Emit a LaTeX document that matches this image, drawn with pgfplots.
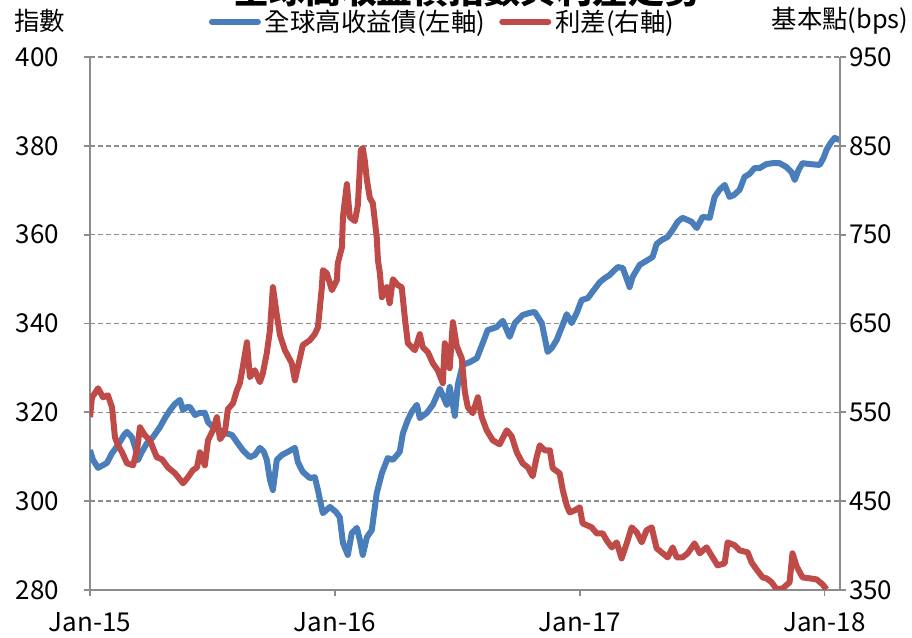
\documentclass[border=0pt]{standalone}
\usepackage{fontspec}
\setmainfont{Noto Sans CJK TC}
\usepackage{pgfplots}
\pgfplotsset{compat=1.18}
\definecolor{hyblue}{HTML}{4A7EBB}
\definecolor{spred}{HTML}{BE4B48}
\definecolor{axgray}{HTML}{8C8C8C}
\pgfplotsset{
  common/.style={
    at={(0,0)}, anchor=south west,
    scale only axis, width=375pt, height=266.5pt,
    xmin=0, xmax=3.063,
    axis line style={-, color=axgray, line width=0.9pt},
    tick style={color=axgray, line width=0.9pt},
    tick align=outside, major tick length=3pt,
    /pgf/number format/assume math mode=true,
    ticklabel style={font=\fontsize{13}{15}\selectfont},
    clip=true,
  }
}
\begin{document}
\begin{tikzpicture}[font=\fontsize{12.7}{14}\selectfont]
\useasboundingbox (-45pt,-24pt) rectangle (411pt,295pt);
\node[anchor=south, inner sep=0pt, font=\fontsize{18}{20}\selectfont\bfseries] at (188.5pt,291pt) {全球高收益債指數與利差走勢};
\begin{axis}[common,
  ymin=280, ymax=400,
  axis x line*=bottom, axis y line*=left,
  xtick={0,1,2,3}, xticklabels={Jan-15,Jan-16,Jan-17,Jan-18},
  xticklabel style={yshift=-4.5pt},
  ytick={280,300,...,400},
  yticklabel style={xshift=-9pt},
  ymajorgrids,
  grid style={color=axgray, line width=0.75pt, dash pattern=on 2.5pt off 1.5pt},
  ylabel={指數},
  ylabel style={rotate=-90, at={(rel axis cs:0,1)}, anchor=center, xshift=-25pt, yshift=18pt, font=\fontsize{12.7}{14}\selectfont},
  legend columns=2,
  legend style={at={(rel axis cs:0.158,1.066)}, anchor=west, draw=none, fill=none, inner sep=0pt,
    font=\fontsize{12.7}{14}\selectfont,
    /tikz/every even column/.append style={column sep=5pt}},
  legend image code/.code={\draw[#1, line width=3pt, line cap=round] (0pt,0pt) -- (23pt,0pt);},
]
\addplot[hyblue, line width=3pt, line join=round] coordinates {
(0.000,311.5) (0.012,309.3) (0.033,307.5) (0.053,308.1) (0.069,308.6) (0.090,310.8)
(0.114,312.6) (0.139,314.9) (0.151,315.6) (0.171,314.4) (0.184,312.2) (0.196,309.3)
(0.212,311.1) (0.233,313.1) (0.257,314.4) (0.286,316.7) (0.306,318.7) (0.327,320.5)
(0.347,321.9) (0.367,322.8) (0.380,320.5) (0.396,321.2) (0.408,321.2) (0.429,319.4)
(0.449,319.9) (0.469,319.9) (0.482,317.8) (0.502,316.7) (0.531,316.0) (0.555,315.3)
(0.580,314.9) (0.600,313.3) (0.624,311.5) (0.653,309.9) (0.673,310.4) (0.694,312.0)
(0.710,311.1) (0.722,309.3) (0.735,304.8) (0.747,302.5) (0.763,309.3) (0.784,310.4)
(0.808,311.1) (0.837,312.0) (0.849,308.8) (0.869,306.6) (0.898,305.2) (0.918,305.4)
(0.931,302.5) (0.939,300.3) (0.951,297.3) (0.980,298.7) (1.004,297.6) (1.020,296.4)
(1.033,290.6) (1.053,287.9) (1.069,292.8) (1.090,294.0) (1.102,291.3) (1.114,287.9)
(1.131,291.9) (1.151,293.5) (1.171,301.8) (1.192,306.3) (1.216,309.7) (1.237,309.3)
(1.265,311.1) (1.278,315.3) (1.298,318.3) (1.314,320.1) (1.335,321.7) (1.347,318.7)
(1.376,319.9) (1.400,321.7) (1.429,325.3) (1.457,321.7) (1.469,325.7) (1.490,319.2)
(1.502,326.2) (1.522,330.7) (1.551,331.3) (1.580,332.2) (1.604,335.6) (1.624,338.5)
(1.661,339.2) (1.686,340.6) (1.714,337.0) (1.735,340.1) (1.767,341.9) (1.796,342.4)
(1.816,342.6) (1.845,340.1) (1.869,333.6) (1.886,334.5) (1.906,336.3) (1.927,339.2)
(1.947,342.1) (1.967,340.1) (1.988,342.4) (2.008,345.3) (2.033,345.7) (2.049,346.9)
(2.082,349.3) (2.102,350.2) (2.122,350.9) (2.155,352.7) (2.176,352.5) (2.204,348.2)
(2.216,350.5) (2.245,353.2) (2.278,354.3) (2.298,355.0) (2.314,357.9) (2.335,358.8)
(2.359,359.5) (2.380,361.1) (2.400,362.9) (2.420,363.8) (2.441,363.3) (2.457,362.9)
(2.478,361.5) (2.502,364.0) (2.531,363.8) (2.551,368.5) (2.571,370.1) (2.592,371.2)
(2.612,368.5) (2.629,368.9) (2.653,370.1) (2.673,373.0) (2.694,373.7) (2.714,375.0)
(2.735,375.0) (2.763,375.9) (2.788,376.1) (2.816,376.1) (2.845,375.2) (2.865,374.1)
(2.878,372.3) (2.894,374.6) (2.910,376.1) (2.939,375.9) (2.980,375.7) (2.996,377.3)
(3.008,379.1) (3.024,380.6) (3.041,381.8) (3.061,381.3)
};
\addlegendentry{全球高收益債(左軸)}
\addlegendimage{spred}
\addlegendentry{利差(右軸)}
\end{axis}
\begin{axis}[common,
  ymin=350, ymax=950,
  axis y line*=right, axis x line=none,
  ytick={350,450,...,950},
  yticklabel style={xshift=-2pt},
  ylabel={基本點(bps)},
  ylabel style={rotate=-90, at={(rel axis cs:1,1)}, anchor=center, xshift=0pt, yshift=18pt, font=\fontsize{12.7}{14}\selectfont},
]
\addplot[spred, line width=3pt, line join=round] coordinates {
(0.000,544.5) (0.008,567.0) (0.020,571.5) (0.033,577.1) (0.053,567.0) (0.073,569.2)
(0.090,555.7) (0.102,521.9) (0.114,512.9) (0.131,505.0) (0.151,492.6) (0.176,490.4)
(0.192,507.3) (0.204,533.2) (0.224,524.2) (0.245,518.5) (0.261,507.3) (0.273,499.4)
(0.294,497.1) (0.318,488.1) (0.347,481.4) (0.380,470.1) (0.400,476.9) (0.420,484.8)
(0.437,488.1) (0.449,505.0) (0.469,490.4) (0.482,518.5) (0.502,529.8) (0.518,544.5)
(0.531,519.7) (0.551,527.6) (0.563,553.5) (0.584,560.2) (0.600,574.9) (0.612,582.8)
(0.624,600.8) (0.641,628.9) (0.653,589.5) (0.673,597.4) (0.694,583.9) (0.706,594.0)
(0.722,616.6) (0.735,642.5) (0.747,690.9) (0.763,659.4) (0.776,636.8) (0.796,619.9)
(0.824,605.3) (0.837,586.1) (0.857,610.9) (0.869,625.6) (0.898,631.2) (0.918,638.0)
(0.931,645.8) (0.947,690.9) (0.951,710.1) (0.967,706.7) (0.988,687.5) (1.008,698.8)
(1.012,717.9) (1.029,736.0) (1.033,769.8) (1.049,806.9) (1.061,769.8) (1.082,765.3)
(1.094,783.3) (1.106,845.2) (1.114,847.5) (1.122,834.0) (1.131,811.4) (1.143,791.2)
(1.155,785.5) (1.171,747.2) (1.176,721.3) (1.184,706.7) (1.192,679.6) (1.212,690.9)
(1.224,672.9) (1.237,699.9) (1.257,693.2) (1.273,690.9) (1.286,656.0) (1.298,627.8)
(1.327,619.9) (1.347,638.0) (1.359,623.3) (1.380,617.7) (1.400,605.3) (1.420,597.4)
(1.441,582.8) (1.449,627.8) (1.461,612.0) (1.469,599.7) (1.482,651.5) (1.498,624.4)
(1.518,610.9) (1.531,572.6) (1.543,555.7) (1.563,549.0) (1.584,567.0) (1.600,544.5)
(1.620,529.8) (1.645,518.5) (1.673,514.0) (1.702,529.8) (1.722,523.1) (1.743,505.0)
(1.767,492.6) (1.788,488.1) (1.808,478.0) (1.824,499.4) (1.837,512.9) (1.857,507.3)
(1.878,507.3) (1.890,487.0) (1.918,481.4) (1.931,462.2) (1.947,445.3) (1.959,437.4)
(1.980,439.7) (2.000,443.1) (2.012,425.0) (2.049,420.5) (2.069,413.8) (2.094,413.8)
(2.110,405.9) (2.131,398.0) (2.151,403.6) (2.171,385.6) (2.192,402.5) (2.212,420.5)
(2.233,414.9) (2.253,403.6) (2.273,417.2) (2.294,420.5) (2.314,396.9) (2.339,391.3)
(2.359,386.7) (2.380,398.0) (2.396,386.7) (2.420,386.7) (2.441,391.3) (2.469,402.5)
(2.490,391.3) (2.518,398.0) (2.543,386.7) (2.563,377.7) (2.592,380.0) (2.604,403.6)
(2.633,400.3) (2.653,394.6) (2.686,392.4) (2.702,381.1) (2.722,373.2) (2.747,364.2)
(2.763,363.1) (2.784,358.6) (2.804,350.7) (2.829,351.8) (2.857,358.6) (2.869,391.3)
(2.886,376.6) (2.910,364.2) (2.939,363.1) (2.967,362.0) (2.992,356.3) (3.008,350.7)
};
\end{axis}
\end{tikzpicture}
\end{document}
